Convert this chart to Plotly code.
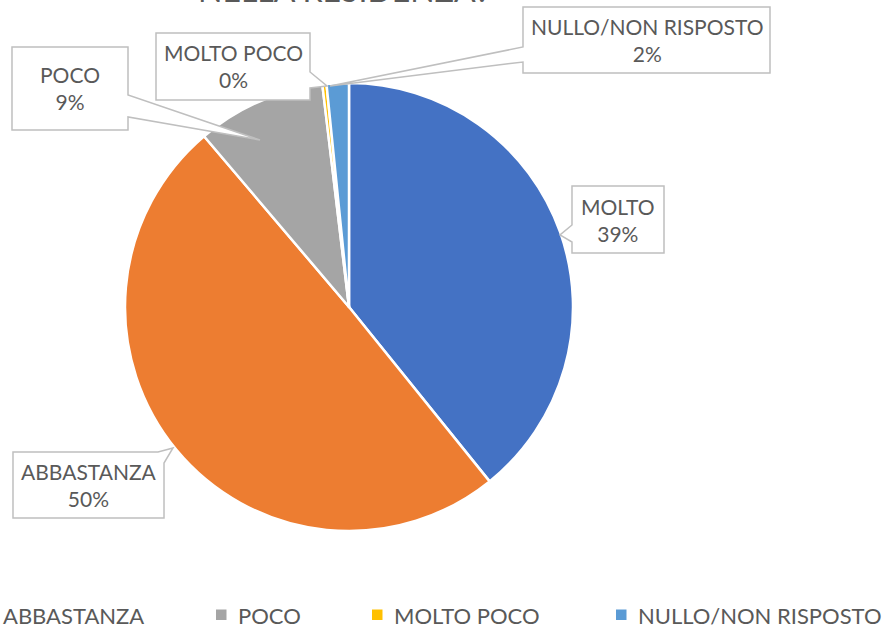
import plotly.graph_objects as go

W, H = 894, 630

# ---- data ----
labels = ["MOLTO", "ABBASTANZA", "POCO", "MOLTO POCO", "NULLO/NON RISPOSTO"]
values = [39.2, 49.6, 9.3, 0.3, 1.6]
colors = ["#4472C4", "#ED7D31", "#A5A5A5", "#FFC000", "#5B9BD5"]
title_text = "NELLA RESIDENZA?"

TXT = "#595959"
FONT = "Lato"
BORDER = "#BFBFBF"


def px(x):
    return x / W


def py(y):
    return 1 - y / H


fig = go.Figure()
fig.add_trace(go.Pie(
    labels=labels, values=values, sort=False, direction="clockwise", rotation=0,
    marker=dict(colors=colors, line=dict(color="white", width=2.5)),
    textinfo="none", hoverinfo="label+percent", showlegend=False,
    domain=dict(x=[px(349 - 224), px(349 + 224)], y=[py(531), py(83)]),
))

total = sum(values)
pcts = [round(v / total * 100) for v in values]

# callout boxes (pixel layout): box, wedge polygon points
callouts = {
    "POCO": dict(box=(12, 47, 128, 130), side="r", wedge=[(128, 95), (260, 140), (128, 117)]),
    "MOLTO POCO": dict(box=(156, 33, 310, 100), side="r", wedge=[(310, 72), (327, 86), (310, 88)]),
    "NULLO/NON RISPOSTO": dict(box=(523, 7, 770, 73), side="l", wedge=[(523, 62), (330, 86), (523, 47)]),
    "MOLTO": dict(box=(572, 186, 664, 253), side="l", wedge=[(572, 242), (560, 235), (572, 225)]),
    "ABBASTANZA": dict(box=(13, 452, 164, 518), side="tr", wedge=[(158, 452), (173, 448), (164, 463)]),
}

shapes = []
annotations = []
for lab, pct in zip(labels, pcts):
    c = callouts[lab]
    x0, y0, x1, y1 = c["box"]
    w = c["wedge"]
    if c["side"] == "r":
        pts = [(x0, y0), (x1, y0)] + w + [(x1, y1), (x0, y1)]
    elif c["side"] == "l":
        pts = [(x0, y0), (x1, y0), (x1, y1), (x0, y1)] + w
    else:  # top-right corner
        pts = [(x0, y0)] + w + [(x1, y1), (x0, y1)]
    path = "M " + " L ".join(f"{px(a):.5f},{py(b):.5f}" for a, b in pts) + " Z"
    shapes.append(dict(type="path", xref="paper", yref="paper", path=path,
                       fillcolor="white", line=dict(color=BORDER, width=1.5), layer="above"))
    annotations.append(dict(
        x=px((x0 + x1) / 2), y=py((y0 + y1) / 2), xref="paper", yref="paper",
        text=f"{lab}<br>{pct}%", showarrow=False, xanchor="center", yanchor="middle",
        font=dict(family=FONT, size=21, color=TXT), align="center"))

# title (partly cut by the top edge, as in the reference)
annotations.append(dict(x=px(344), y=py(11), xref="paper", yref="paper", text=title_text,
                        showarrow=False, xanchor="center", yanchor="bottom",
                        font=dict(family=FONT, size=32, color=TXT)))

# legend drawn manually (reference is cropped on the left)
legend_x = [-150, -19, 216, 372, 616]
for lab, col, lx in zip(labels, colors, legend_x):
    shapes.append(dict(type="rect", xref="paper", yref="paper",
                       x0=px(lx), x1=px(lx + 10.5), y0=py(620), y1=py(609.5),
                       fillcolor=col, line=dict(width=0)))
    annotations.append(dict(x=px(lx + 20), y=py(615), xref="paper", yref="paper", text=lab,
                            showarrow=False, xanchor="left", yanchor="middle",
                            font=dict(family=FONT, size=22, color=TXT)))

fig.update_layout(
    width=W, height=H, margin=dict(l=0, r=0, t=0, b=0),
    paper_bgcolor="white", plot_bgcolor="white",
    shapes=shapes, annotations=annotations, showlegend=False,
)

fig.write_html("out.html", config={"displayModeBar": False},
               post_script="document.body.style.margin='0';document.body.style.overflow='hidden';")
